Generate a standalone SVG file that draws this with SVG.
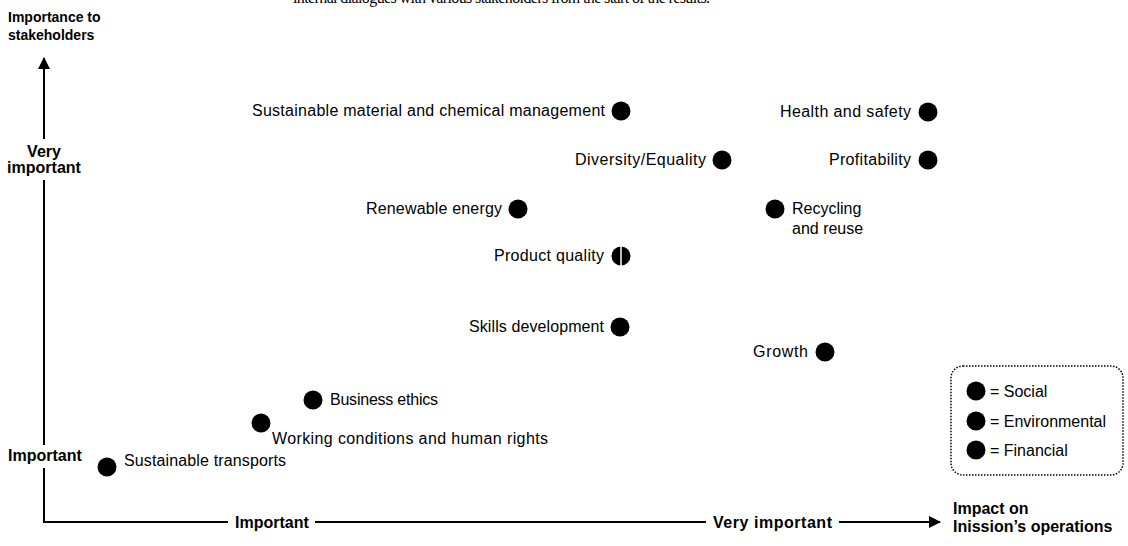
<svg xmlns="http://www.w3.org/2000/svg" width="1128" height="546" viewBox="0 0 1128 546">
  <defs>
    <style>
      .lbl { font-family: "Liberation Sans", Arial, sans-serif; font-size: 16px; fill: #000; }
      .bold { font-family: "Liberation Sans", Arial, sans-serif; font-weight: bold; fill: #000; }
      .ax { font-size: 16px; }
      .ttl { font-size: 14px; }
      .axis { stroke: #000; stroke-width: 2; fill: none; }
      .dot { fill: #000; }
      .top { font-family: "Liberation Serif", "Times New Roman", serif; font-size: 16px; fill: #000; }
    </style>
    <marker id="arr" viewBox="0 0 12 12" refX="11" refY="6" markerWidth="12" markerHeight="12" markerUnits="userSpaceOnUse" orient="auto">
      <path d="M0,0 L12,6 L0,12 Z" fill="#000"/>
    </marker>
  </defs>
  <rect width="1128" height="546" fill="#fff"/>

  <text class="top" x="293" y="3" textLength="417">internal dialogues with various stakeholders from the start of the results.</text>

  <g id="axes">
    <text class="bold ttl" x="8" y="22">Importance to</text>
    <text class="bold ttl" x="8" y="40">stakeholders</text>
    <line class="axis" x1="44" y1="139" x2="44" y2="58" marker-end="url(#arr)"/>
    <text class="bold ax" x="44" y="157" text-anchor="middle">Very</text>
    <text class="bold ax" x="44" y="173" text-anchor="middle">important</text>
    <line class="axis" x1="44" y1="180" x2="44" y2="445"/>
    <text class="bold ax" x="8" y="461">Important</text>
    <polyline class="axis" points="44,468 44,522 228,522"/>
    <text class="bold ax" x="235" y="528">Important</text>
    <line class="axis" x1="315" y1="522" x2="706" y2="522"/>
    <text class="bold ax" x="713" y="528" textLength="119">Very important</text>
    <line class="axis" x1="839" y1="522" x2="940" y2="522" marker-end="url(#arr)"/>
    <text class="bold ax" x="953" y="514">Impact on</text>
    <text class="bold ax" x="953" y="532">Inission’s operations</text>
  </g>

  <g id="node-sustainable-material">
    <circle class="dot" cx="621" cy="111" r="9.5"/>
    <text class="lbl" x="605" y="116" text-anchor="end" textLength="353">Sustainable material and chemical management</text>
  </g>
  <g id="node-health-safety">
    <circle class="dot" cx="928" cy="112" r="9.5"/>
    <text class="lbl" x="911" y="117" text-anchor="end" textLength="131">Health and safety</text>
  </g>
  <g id="node-diversity">
    <circle class="dot" cx="722" cy="160" r="9.5"/>
    <text class="lbl" x="706" y="165" text-anchor="end" textLength="131">Diversity/Equality</text>
  </g>
  <g id="node-profitability">
    <circle class="dot" cx="928" cy="160" r="9.5"/>
    <text class="lbl" x="911" y="165" text-anchor="end" textLength="82">Profitability</text>
  </g>
  <g id="node-renewable">
    <circle class="dot" cx="518" cy="209" r="9.5"/>
    <text class="lbl" x="502" y="214" text-anchor="end" textLength="136">Renewable energy</text>
  </g>
  <g id="node-recycling">
    <circle class="dot" cx="775" cy="209" r="9.5"/>
    <text class="lbl" x="792" y="214">Recycling</text>
    <text class="lbl" x="792" y="234">and reuse</text>
  </g>
  <g id="node-product-quality">
    <circle class="dot" cx="621" cy="256" r="9.5"/>
    <line x1="621" y1="246" x2="621" y2="266" stroke="#fff" stroke-width="1.5"/>
    <text class="lbl" x="604" y="261" text-anchor="end" textLength="110">Product quality</text>
  </g>
  <g id="node-skills">
    <circle class="dot" cx="620" cy="327" r="9.5"/>
    <text class="lbl" x="604" y="332" text-anchor="end" textLength="135">Skills development</text>
  </g>
  <g id="node-growth">
    <circle class="dot" cx="825" cy="352" r="9.5"/>
    <text class="lbl" x="808" y="357" text-anchor="end" textLength="55">Growth</text>
  </g>
  <g id="node-business-ethics">
    <circle class="dot" cx="313" cy="400" r="9.5"/>
    <text class="lbl" x="330" y="405" textLength="108">Business ethics</text>
  </g>
  <g id="node-working-conditions">
    <circle class="dot" cx="261" cy="423" r="9.5"/>
    <text class="lbl" x="272" y="444" textLength="276">Working conditions and human rights</text>
  </g>
  <g id="node-sustainable-transports">
    <circle class="dot" cx="107" cy="467" r="9.5"/>
    <text class="lbl" x="124" y="466" textLength="162">Sustainable transports</text>
  </g>

  <g id="legend">
    <rect x="951" y="366" width="172" height="109" rx="12" ry="12" fill="none" stroke="#000" stroke-width="1.5" stroke-dasharray="1.5 1.5"/>
    <circle class="dot" cx="976" cy="391" r="9.5"/>
    <text class="lbl" x="990" y="397">= Social</text>
    <circle class="dot" cx="976" cy="421" r="9.5"/>
    <text class="lbl" x="990" y="427">= Environmental</text>
    <circle class="dot" cx="976" cy="450" r="9.5"/>
    <text class="lbl" x="990" y="456">= Financial</text>
  </g>
</svg>
